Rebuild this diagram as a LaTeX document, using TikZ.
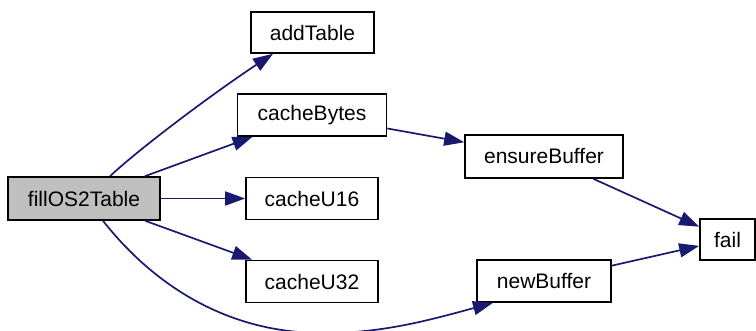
\documentclass[tikz,border=0pt]{standalone}
\usepackage{fontspec}
\setmainfont{Liberation Sans}
\usetikzlibrary{arrows.meta}
\definecolor{edgeblue}{HTML}{191970}
\definecolor{hlgray}{HTML}{BFBFBF}
\begin{document}
\begin{tikzpicture}[x=1pt,y=-1pt,
  fnbox/.style={draw=black,line width=1.6pt,fill=white,rectangle,inner sep=0pt,
    minimum height=42pt,font=\fontsize{21}{24}\selectfont},
  callarrow/.style={draw=edgeblue,line width=1.7pt,-{Triangle[length=20pt,width=14pt]}}]
\useasboundingbox (0,0) rectangle (756,331);
\node[fnbox,fill=hlgray,minimum width=152pt,minimum height=43pt] (fill) at (84,198.5) {fillOS2Table};
\node[fnbox,minimum width=123pt,minimum height=41pt] (addTable) at (312.5,32.5) {addTable};
\node[fnbox,minimum width=149pt] (cacheBytes) at (312,115) {cacheBytes};
\node[fnbox,minimum width=132pt] (cacheU16) at (312,198.5) {cacheU16};
\node[fnbox,minimum width=132pt] (cacheU32) at (312,281.5) {cacheU32};
\node[fnbox,minimum width=158pt,minimum height=43pt] (ensureBuffer) at (544,156.5) {ensureBuffer};
\node[fnbox,minimum width=134pt] (newBuffer) at (544,281) {newBuffer};
\node[fnbox,minimum width=55pt,minimum height=41pt] (fail) at (727.5,239.5) {fail};
\draw[callarrow] ([xshift=26pt]fill.north) .. controls (140,148) and (215,92) .. ([xshift=-39.5pt]addTable.south);
\draw[callarrow] (fill) -- (cacheBytes);
\draw[callarrow] (fill) -- (cacheU16);
\draw[callarrow] (fill) -- (cacheU32);
\draw[callarrow] ([xshift=19pt]fill.south) .. controls (130,255) and (200,332) .. (320,333)
  .. controls (380,334) and (430,320) .. ([xshift=-51pt]newBuffer.south);
\draw[callarrow] (cacheBytes) -- (ensureBuffer);
\draw[callarrow] (ensureBuffer) -- (fail);
\draw[callarrow] (newBuffer) -- (fail);
\end{tikzpicture}
\end{document}
